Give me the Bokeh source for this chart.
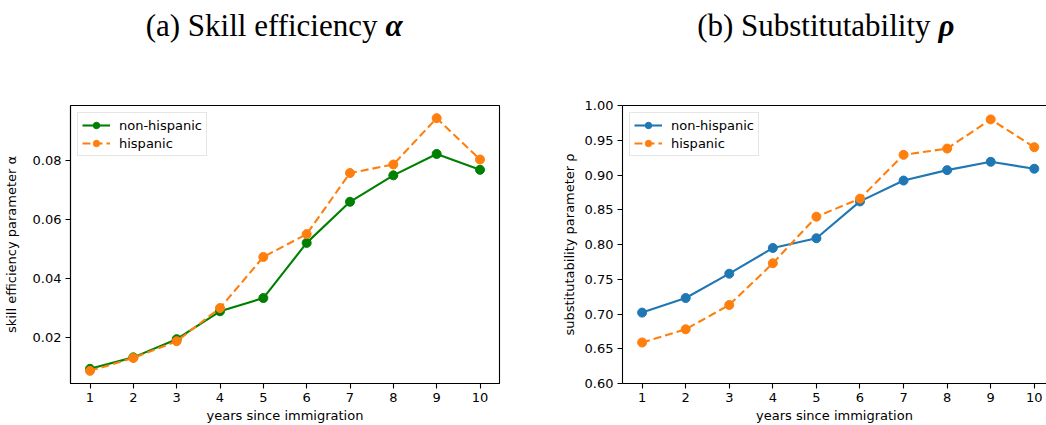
from bokeh.plotting import figure
from bokeh.layouts import row, column
from bokeh.models import LinearAxis, FixedTicker, Range1d, NumeralTickFormatter
from bokeh.core.properties import value
from bokeh.embed import file_html
from bokeh.resources import INLINE

# --- data -------------------------------------------------------------
years = list(range(1, 11))

alpha_non_hispanic = [0.0092, 0.0131, 0.0193, 0.0288, 0.0333, 0.0521, 0.0661, 0.0751, 0.0824, 0.0770]
alpha_hispanic = [0.0085, 0.0129, 0.0186, 0.0299, 0.0473, 0.0551, 0.0759, 0.0788, 0.0946, 0.0805]

rho_non_hispanic = [0.702, 0.723, 0.758, 0.795, 0.809, 0.862, 0.892, 0.907, 0.919, 0.909]
rho_hispanic = [0.659, 0.678, 0.713, 0.773, 0.840, 0.866, 0.929, 0.938, 0.980, 0.940]

alpha_ticks = [0.02, 0.04, 0.06, 0.08]
rho_ticks = [0.60, 0.65, 0.70, 0.75, 0.80, 0.85, 0.90, 0.95, 1.00]
year_ticks = years

panel_titles = ["(a) Skill efficiency", "(b) Substitutability"]
panel_symbols = ["α", "ρ"]

GREEN = "#008000"
BLUE = "#1f77b4"
ORANGE = "#ff7f0e"
SANS = "DejaVu Sans"
SERIF = "Liberation Serif"


def padded(lo, hi, frac=0.05):
    span = hi - lo
    return lo - frac * span, hi + frac * span


def style(p, ylabel, yticks, ylabel_standoff):
    p.xgrid.visible = False
    p.ygrid.visible = False
    p.background_fill_color = "white"
    p.border_fill_color = "white"
    p.xaxis.ticker = FixedTicker(ticks=year_ticks)
    p.yaxis.ticker = FixedTicker(ticks=yticks)
    p.yaxis.formatter = NumeralTickFormatter(format="0.00")
    p.xaxis.axis_label = "years since immigration"
    p.yaxis.axis_label = ylabel
    for ax in (p.xaxis, p.yaxis):
        ax.axis_line_color = "black"
        ax.axis_line_width = 1.1
        ax.major_tick_line_color = "black"
        ax.major_tick_line_width = 1.1
        ax.major_tick_out = 5
        ax.major_tick_in = 0
        ax.minor_tick_line_color = None
        ax.major_label_text_font = SANS
        ax.major_label_text_font_size = "13px"
        ax.major_label_text_color = "black"
        ax.axis_label_text_font = SANS
        ax.axis_label_text_font_size = "13px"
        ax.axis_label_text_font_style = "normal"
        ax.axis_label_text_color = "black"
        ax.major_label_standoff = 4
    p.xaxis.major_label_standoff = 4
    p.xaxis.axis_label_standoff = 3
    p.yaxis.axis_label_standoff = ylabel_standoff


def add_series(p, ys, color, label, dash):
    p.line(years, ys, line_color=color, line_width=2.1, line_dash=dash, legend_label=label)
    p.scatter(years, ys, size=9, fill_color=color, line_color=color, legend_label=label)


def style_legend(p):
    lg = p.legend[0]
    lg.location = "top_left"
    lg.margin = 7
    lg.padding = 4
    lg.spacing = 2
    lg.glyph_width = 28
    lg.glyph_height = 16
    lg.label_standoff = 9
    lg.label_height = 16
    lg.label_text_font = SANS
    lg.label_text_font_size = "13px"
    lg.label_text_color = "black"
    lg.border_line_color = "#cccccc"
    lg.border_line_width = 1
    lg.background_fill_alpha = 0.8


# --- panel headings (a strip above both charts, 1 unit = 1 px) --------
TOP_H = 80
PLOT_H = 425 - TOP_H
head = figure(width=1046, height=TOP_H, output_backend="svg", toolbar_location=None,
              x_range=Range1d(0, 1046), y_range=Range1d(0, TOP_H),
              min_border=0, outline_line_color=None)
head.axis.visible = False
head.grid.visible = False
split_x = [377, 930]
baseline_y = [TOP_H - 25, TOP_H - 25]
head.text(x=split_x, y=baseline_y, text=panel_titles, text_align="right",
          text_baseline="alphabetic", text_font=value(SERIF), text_font_size="31px",
          text_color="black")
head.text(x=[sx + 8 for sx in split_x], y=baseline_y, text=panel_symbols, text_align="left",
          text_baseline="alphabetic", text_font=value(SERIF), text_font_size="31px",
          text_font_style="bold italic", text_color="black")

# --- (a) skill efficiency ---------------------------------------------
a_lo, a_hi = padded(min(alpha_non_hispanic + alpha_hispanic), max(alpha_non_hispanic + alpha_hispanic))
pa = figure(width=540, height=PLOT_H, output_backend="svg", toolbar_location=None,
            x_range=Range1d(0.55, 10.45), y_range=Range1d(a_lo, a_hi),
            min_border_left=67, min_border_right=41, min_border_top=25, min_border_bottom=40)
style(pa, "skill efficiency parameter α", alpha_ticks, 11)
pa.outline_line_color = "black"
pa.outline_line_width = 1.1
add_series(pa, alpha_non_hispanic, GREEN, "non-hispanic", "solid")
add_series(pa, alpha_hispanic, ORANGE, "hispanic", "8 4")
style_legend(pa)

# --- (b) substitutability ---------------------------------------------
pb = figure(width=506, height=PLOT_H, output_backend="svg", toolbar_location=None,
            x_range=Range1d(0.55, 10.28), y_range=Range1d(0.6, 1.0),
            min_border_left=82, min_border_right=0, min_border_top=25, min_border_bottom=40)
style(pb, "substitutability parameter ρ", rho_ticks, 5)
pb.outline_line_color = None
top = LinearAxis(ticker=FixedTicker(ticks=[]), axis_line_color="black", axis_line_width=1.1,
                 major_tick_line_color=None, minor_tick_line_color=None,
                 major_tick_out=0, major_label_text_font_size="0px")
pb.add_layout(top, "above")
add_series(pb, rho_non_hispanic, BLUE, "non-hispanic", "solid")
add_series(pb, rho_hispanic, ORANGE, "hispanic", "8 4")
style_legend(pb)

layout = column(head, row(pa, pb, spacing=0), spacing=0)
open("out.html", "w").write(file_html(layout, INLINE))
